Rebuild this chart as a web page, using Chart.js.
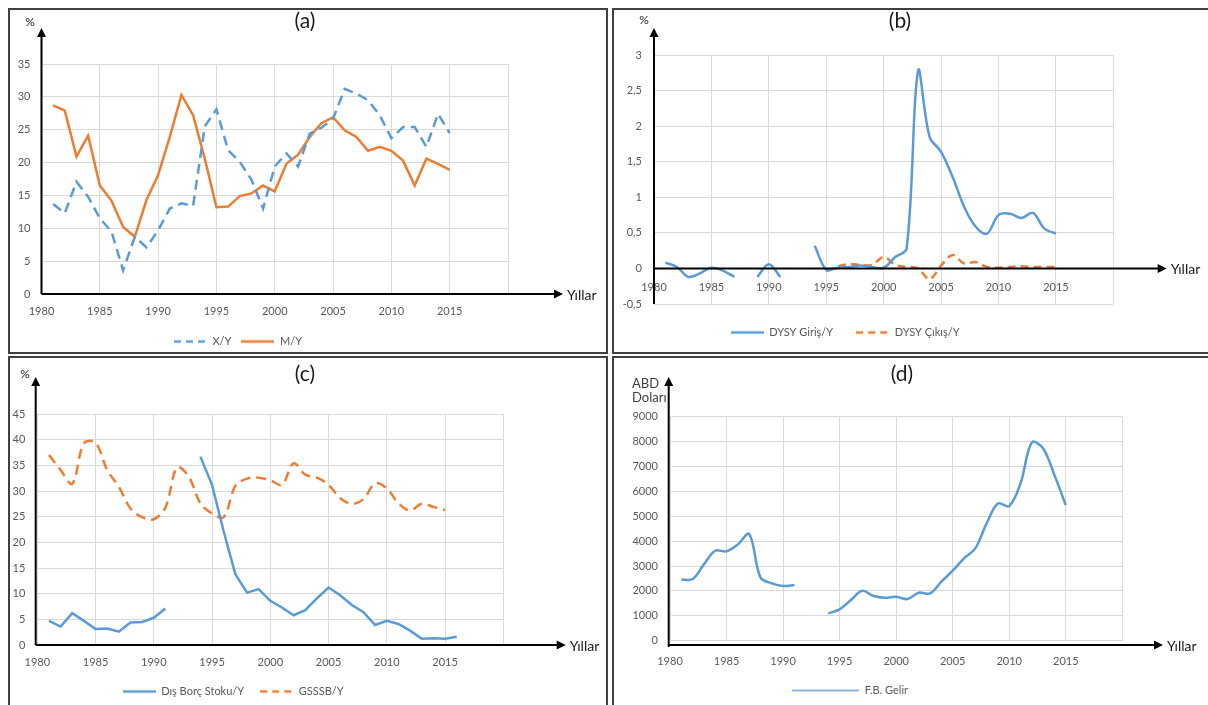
<!DOCTYPE html>
<html lang="tr">
<head>
<meta charset="utf-8">
<title>Grafikler</title>
<script src="https://cdn.jsdelivr.net/npm/chart.js@4.4.1/dist/chart.umd.min.js"></script>
<style>
  html, body { margin:0; padding:0; background:#fff; }
  body { width:1208px; height:705px; position:relative; overflow:hidden; font-family: Lato, "Open Sans", sans-serif; }
  canvas { position:absolute; }
  .frame { position:absolute; border:2px solid #404040; box-sizing:border-box; pointer-events:none; z-index:3; }
  .txt { position:absolute; color:#1a1a1a; white-space:nowrap; z-index:4; line-height:1; }
  .ttl { font-size:21px; transform:translate(-50%,-50%); }
  .unit { font-size:12px; transform:translate(-50%,-50%); }
  .abd { font-size:13px; color:#404040; }
</style>
</head>
<body>
<canvas id="ca" width="640" height="349" style="left:-32px;top:8px"></canvas>
<canvas id="cb" width="631" height="340" style="left:577px;top:8px"></canvas>
<canvas id="cc" width="645" height="351" style="left:-37px;top:356px"></canvas>
<canvas id="cd" width="630" height="350" style="left:578px;top:356px"></canvas>

<div class="frame" style="left:8px;top:8px;width:600px;height:346px"></div>
<div class="frame" style="left:612px;top:8px;width:610px;height:346px"></div>
<div class="frame" style="left:8px;top:356px;width:600px;height:360px"></div>
<div class="frame" style="left:612px;top:356px;width:610px;height:360px"></div>

<div class="txt ttl" style="left:305px;top:19px">(a)</div>
<div class="txt ttl" style="left:900px;top:19px">(b)</div>
<div class="txt ttl" style="left:305px;top:372px">(c)</div>
<div class="txt ttl" style="left:902px;top:372px">(d)</div>
<div class="txt unit" style="left:30px;top:22px">%</div>
<div class="txt unit" style="left:644px;top:20px">%</div>
<div class="txt unit" style="left:25px;top:374px">%</div>
<div class="txt abd" style="left:632px;top:377px">ABD</div>
<div class="txt abd" style="left:632px;top:391px">Doları</div>

<script>
// ---------- data ----------
const years = [1981,1982,1983,1984,1985,1986,1987,1988,1989,1990,1991,1992,1993,1994,1995,1996,1997,1998,
               1999,2000,2001,2002,2003,2004,2005,2006,2007,2008,2009,2010,2011,2012,2013,2014,2015,2016];
const xGridYears = [1980,1985,1990,1995,2000,2005,2010,2015,2020];
const xTickLabels = ['1980','1985','1990','1995','2000','2005','2010','2015'];
const xAxisTitle = 'Yıllar';

// (a)
const xY = [13.7,12.3,17.1,14.8,11.5,9.5,3.6,8.7,7.1,9.7,13.0,13.8,13.4,25.5,28.1,21.9,20.1,17.4,13.0,19.4,
            21.4,19.4,24.4,25.3,26.7,31.2,30.5,29.5,27.2,23.7,25.4,25.4,22.4,27.4,24.5,null];
const mY = [28.7,27.9,20.9,24.1,16.5,14.2,10.2,8.7,14.3,18.1,23.9,30.3,27.2,20.6,13.2,13.3,14.9,15.3,16.5,15.6,
            19.8,21.2,23.9,26.0,26.9,24.9,23.9,21.8,22.4,21.8,20.3,16.5,20.6,19.8,18.9,null];
const yTicksA = [0,5,10,15,20,25,30,35];

// (b)
const dysyGiris = [0.08,0.02,-0.12,-0.07,0.01,-0.03,-0.12,null,-0.12,0.06,-0.12,null,null,0.32,-0.02,0.01,0.02,0.04,
                   0.02,0.01,0.16,0.28,2.78,1.85,1.64,1.29,0.87,0.59,0.49,0.75,0.77,0.71,0.78,0.56,0.49,null];
const dysyCikis = [null,null,null,null,null,null,null,null,null,null,null,null,null,null,-0.04,0.03,0.06,0.05,
                   0.05,0.16,0.05,0.02,0.0,-0.15,0.04,0.19,0.07,0.09,0.02,0.01,0.02,0.03,0.02,0.02,0.02,null];
const yTicksB = [-0.5,0,0.5,1,1.5,2,2.5,3];
const yTickLabelsB = ['-0,5','0','0,5','1','1,5','2','2,5','3'];

// (c)
const disBorc = [4.7,3.6,6.2,4.7,3.1,3.2,2.6,4.4,4.5,5.3,7.1,null,null,36.7,31.2,22.1,13.8,10.2,
                 10.9,8.6,7.3,5.8,6.8,9.1,11.2,9.7,7.8,6.4,3.9,4.7,4.1,2.8,1.2,1.3,1.2,1.6];
const gsssb = [37.0,34.1,31.4,39.3,39.4,34.1,30.8,26.6,24.9,24.5,26.8,34.6,32.8,27.6,25.6,24.9,31.0,32.4,
               32.6,32.1,31.2,35.4,33.2,32.6,31.2,28.6,27.5,28.4,31.5,30.5,27.6,26.2,27.5,26.9,26.3,null];
const yTicksC = [0,5,10,15,20,25,30,35,40,45];

// (d)
const fbGelir = [2463,2477,3066,3614,3588,3869,4284,2544,2303,2195,2236,null,null,1098,1258,1633,2008,1794,
                 1727,1767,1673,1928,1900,2370,2811,3307,3708,4712,5515,5408,6319,7965,7724,6653,5448,null];
const yTicksD = [0,1000,2000,3000,4000,5000,6000,7000,8000,9000];

// ---------- helpers ----------
const FONT = 'Lato, "Open Sans", sans-serif';
const BLUE = '#5B9BD5', ORANGE = '#ED7D31', GRID = '#D9D9D9', TICK = '#595959';
Chart.defaults.font.family = FONT;

const pts = (vals) => years.map((x, i) => ({ x, y: vals[i] }));

// legend marker: a short straight (optionally dashed) line drawn into a small canvas
function legendMarker(color, width, lw, dash) {
  const c = document.createElement('canvas');
  c.width = width; c.height = 8;
  const g = c.getContext('2d');
  g.strokeStyle = color; g.lineWidth = lw; g.setLineDash(dash || []);
  g.beginPath(); g.moveTo(0, 4); g.lineTo(width, 4); g.stroke();
  return c;
}

function arrows(p) {
  return {
    id: 'axisArrows',
    afterDraw(chart) {
      const { ctx, chartArea: a, scales } = chart;
      const x0 = a.left + p.dx;
      const yAx = (p.zero !== undefined ? scales.y.getPixelForValue(p.zero) : a.bottom) + p.dy;
      const yTop = a.top - p.up;
      const yBottom = Math.max(a.bottom, yAx) + (p.down || 0);
      const xTip = a.right + p.right;
      ctx.save();
      ctx.strokeStyle = '#000'; ctx.fillStyle = '#000'; ctx.lineWidth = 2;
      ctx.beginPath(); ctx.moveTo(x0, yBottom); ctx.lineTo(x0, yTop + 7); ctx.stroke();
      ctx.beginPath(); ctx.moveTo(x0, yTop); ctx.lineTo(x0 - 4.5, yTop + 9); ctx.lineTo(x0 + 4.5, yTop + 9); ctx.closePath(); ctx.fill();
      ctx.beginPath(); ctx.moveTo(x0, yAx); ctx.lineTo(xTip - 7, yAx); ctx.stroke();
      ctx.beginPath(); ctx.moveTo(xTip, yAx); ctx.lineTo(xTip - 9, yAx - 4.5); ctx.lineTo(xTip - 9, yAx + 4.5); ctx.closePath(); ctx.fill();
      ctx.font = '14px ' + FONT; ctx.textAlign = 'left'; ctx.textBaseline = 'middle'; ctx.fillStyle = '#1a1a1a';
      ctx.fillText(xAxisTitle, xTip + 4, yAx + 1);
      ctx.restore();
    }
  };
}

function makeChart(id, o) {
  return new Chart(document.getElementById(id), {
    type: 'line',
    data: { datasets: o.datasets },
    plugins: [arrows(o.arrows)],
    options: {
      responsive: false, animation: false, devicePixelRatio: 1,
      layout: { padding: o.pad },
      elements: { point: { radius: 0, hoverRadius: 0 }, line: { fill: false, borderCapStyle: 'butt' } },
      plugins: {
        legend: {
          position: 'bottom',
          labels: {
            usePointStyle: true, pointStyleWidth: o.legendW,
            padding: o.legendPad, color: TICK, font: { size: 11, family: FONT }
          }
        },
        tooltip: { enabled: false },
        title: { display: false }
      },
      scales: {
        x: {
          type: 'linear', min: 1980, max: 2020,
          position: o.xPos || 'bottom',
          afterBuildTicks: s => { s.ticks = xGridYears.map(v => ({ value: v })); },
          afterFit: s => { if (o.xH !== undefined) s.height = o.xH; },
          ticks: { padding: o.xPad, color: TICK, font: { size: 11 }, maxRotation: 0, autoSkip: false,
                   callback: (v, i) => xTickLabels[i] !== undefined ? xTickLabels[i] : '' },
          grid: { color: GRID, lineWidth: 1, drawTicks: false },
          border: { display: false }
        },
        y: {
          type: 'linear', min: o.yTicks[0], max: o.yTicks[o.yTicks.length - 1],
          afterBuildTicks: s => { s.ticks = o.yTicks.map(v => ({ value: v })); },
          afterFit: s => { s.width = o.yW; },
          ticks: { padding: o.yPad, color: TICK, font: { size: 11 },
                   callback: (v, i) => o.yLabels ? o.yLabels[i] : String(o.yTicks[i]) },
          grid: { color: GRID, lineWidth: 1, drawTicks: false },
          border: { display: false }
        }
      }
    }
  });
}

// (a)
makeChart('ca', {
  pad: { left: 0, right: 100, top: 56, bottom: 0 },
  yW: 73.5, yPad: 11, xH: 32, xPad: 11, legendPad: 10, legendW: 33,
  yTicks: yTicksA,
  arrows: { dx: 0, dy: 0, up: 36, right: 55 },
  datasets: [
    { label: 'X/Y', data: pts(xY), borderColor: BLUE, backgroundColor: BLUE, borderWidth: 2.5, borderDash: [10, 6], tension: 0,
      pointStyle: legendMarker(BLUE, 33, 2.5, [7, 5]) },
    { label: 'M/Y', data: pts(mY), borderColor: ORANGE, backgroundColor: ORANGE, borderWidth: 2.5, tension: 0,
      pointStyle: legendMarker(ORANGE, 33, 2.5) }
  ]
});

// (b)
makeChart('cb', {
  pad: { left: 0, right: 94.7, top: 47, bottom: 0 },
  yW: 77, yPad: 12, xPos: { y: 0 }, xPad: 12, legendPad: 23, legendW: 33,
  yTicks: yTicksB, yLabels: yTickLabelsB,
  arrows: { dx: 0, dy: 0, up: 27, right: 53.4, zero: 0 },
  datasets: [
    { label: 'DYSY Giriş/Y', data: pts(dysyGiris), borderColor: BLUE, backgroundColor: BLUE, borderWidth: 2.5, tension: 0.35,
      pointStyle: legendMarker(BLUE, 33, 2.5) },
    { label: 'DYSY Çıkış/Y', data: pts(dysyCikis), borderColor: ORANGE, backgroundColor: ORANGE, borderWidth: 2.5, borderDash: [8, 5], tension: 0.35,
      pointStyle: legendMarker(ORANGE, 33, 2.5, [7, 5]) }
  ]
});

// (c)
makeChart('cc', {
  pad: { left: 0, right: 104.7, top: 58, bottom: 0 },
  yW: 74.3, yPad: 12, xH: 25, xPad: 11, legendPad: 16, legendW: 33,
  yTicks: yTicksC,
  arrows: { dx: -1.6, dy: 0, up: 37, right: 62.4 },
  datasets: [
    { label: 'Dış Borç Stoku/Y', data: pts(disBorc), borderColor: BLUE, backgroundColor: BLUE, borderWidth: 2.5, tension: 0,
      pointStyle: legendMarker(BLUE, 33, 2.5) },
    { label: 'GSSSB/Y', data: pts(gsssb), borderColor: ORANGE, backgroundColor: ORANGE, borderWidth: 2.5, borderDash: [10, 6], tension: 0.35,
      pointStyle: legendMarker(ORANGE, 33, 2.5, [7, 5]) }
  ]
});

// (d)
makeChart('cd', {
  pad: { left: 0, right: 85.7, top: 60.7, bottom: 0 },
  yW: 92, yPad: 12, xH: 28.3, xPad: 14, legendPad: 16, legendW: 67,
  yTicks: yTicksD,
  arrows: { dx: -1.3, dy: 4.3, up: 39.7, right: 40.7, down: 2 },
  datasets: [
    { label: 'F.B. Gelir', data: pts(fbGelir), borderColor: BLUE, backgroundColor: BLUE, borderWidth: 2.5, tension: 0.35,
      pointStyle: legendMarker(BLUE, 67, 1.5) }
  ]
});
</script>
</body>
</html>
